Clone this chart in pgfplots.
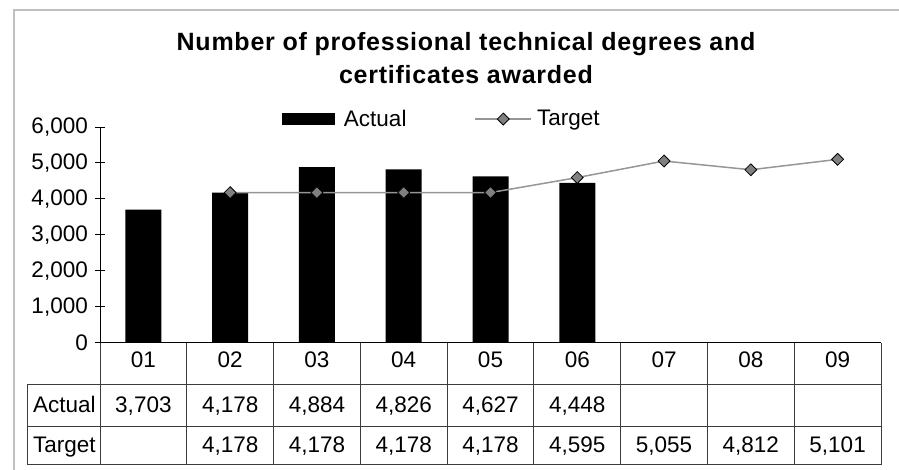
\documentclass[border=0pt]{standalone}
\usepackage{pgfplots}
\pgfplotsset{compat=1.18}
\usepackage{pgfplotstable}
\usepackage{fontspec}
\setmainfont{Liberation Sans}
\newfontfamily\titlefont[LetterSpace=3.0]{Liberation Sans}

\definecolor{framegray}{RGB}{192,192,192}
\definecolor{linegray}{RGB}{150,150,150}
\definecolor{markgray}{RGB}{128,128,128}
\definecolor{tabline}{RGB}{60,60,60}

\pgfplotstableread{
x y
0 3703
1 4178
2 4884
3 4826
4 4627
5 4448
}\actualdata

\pgfplotstableread{
x y
1 4178
2 4178
3 4178
4 4178
5 4595
6 5055
7 4812
8 5101
}\targetdata

\begin{document}
\begin{tikzpicture}[x=1pt,y=1pt]
\useasboundingbox (0,0) rectangle (899,470);
\draw[framegray, line width=2pt] (14,-5)--(14,460)--(905,460);

\node[anchor=base, inner sep=0pt, font=\titlefont\bfseries\fontsize{25}{30}\selectfont] at (466,419) {Number of professional technical degrees and};
\node[anchor=base, inner sep=0pt, font=\titlefont\bfseries\fontsize{25}{30}\selectfont] at (466,386) {certificates awarded};

\begin{axis}[
  at={(100pt,127pt)}, anchor=south west,
  scale only axis, width=781pt, height=216pt,
  xmin=-0.5, xmax=8.5, ymin=0, ymax=6000,
  axis x line*=bottom, axis y line*=left,
  axis line style={-, black, line width=1pt},
  xtick=\empty,
  ytick={0,1000,2000,3000,4000,5000,6000},
  tick align=center, major tick length=10pt,
  tick style={black, line width=1pt},
  yticklabel style={font=\fontsize{22.5}{26}\selectfont, inner sep=0pt, xshift=-7pt},
  /pgf/number format/assume math mode=true,
  /pgf/number format/1000 sep={,},
  scaled y ticks=false,
  clip=false,
  legend columns=2,
  legend style={at={(axis description cs:0.233,1.037)}, anchor=west,
    draw=none, fill=none, inner sep=0pt, outer sep=0pt,
    font=\fontsize{22.5}{26}\selectfont,
    nodes={inner sep=0pt}, column sep=0pt},
]
\addplot[ybar, bar width=36pt, fill=black, draw=none,
  legend image code/.code={\fill[black] (0pt,-6pt) rectangle (53pt,6pt);}]
  table[x=x,y=y] {\actualdata};
\addplot[color=linegray, line width=1.5pt, mark=square*, mark size=4.2pt,
  mark options={rotate=45, fill=markgray, draw=black, line width=0.8pt},
  legend image code/.code={\draw[mark repeat=2, mark phase=2] plot coordinates {(0pt,0pt) (28pt,0pt) (56pt,0pt)};}]
  table[x=x,y=y] {\targetdata};
\legend{\hspace*{9pt}Actual\hspace*{68pt}, \hspace*{5pt}Target}
\end{axis}

% data table
\begin{scope}[tabline, line width=1pt]
\foreach \k in {0,...,9} \draw ({100+86.778*\k},127) -- ({100+86.778*\k},5);
\draw (27,85)--(881,85);
\draw (27,43)--(881,43);
\draw (27,5)--(881,5);
\draw (27,85)--(27,5);
\end{scope}

\begin{scope}[every node/.style={inner sep=0pt, font=\fontsize{22.5}{26}\selectfont}]
\foreach \lab [count=\i from 0] in {01,02,03,04,05,06,07,08,09}
  \node[anchor=base] at ({143.39+86.778*\i},102) {\lab};
\foreach \v [count=\i from 0] in {3{,}703,4{,}178,4{,}884,4{,}826,4{,}627,4{,}448}
  \node[anchor=base] at ({143.39+86.778*\i},57) {\v};
\foreach \v [count=\i from 1] in {4{,}178,4{,}178,4{,}178,4{,}178,4{,}595,5{,}055,4{,}812,5{,}101}
  \node[anchor=base] at ({143.39+86.778*\i},17) {\v};
\node[anchor=base west] at (33,57) {Actual};
\node[anchor=base west] at (33,17) {Target};
\end{scope}
\end{tikzpicture}
\end{document}
